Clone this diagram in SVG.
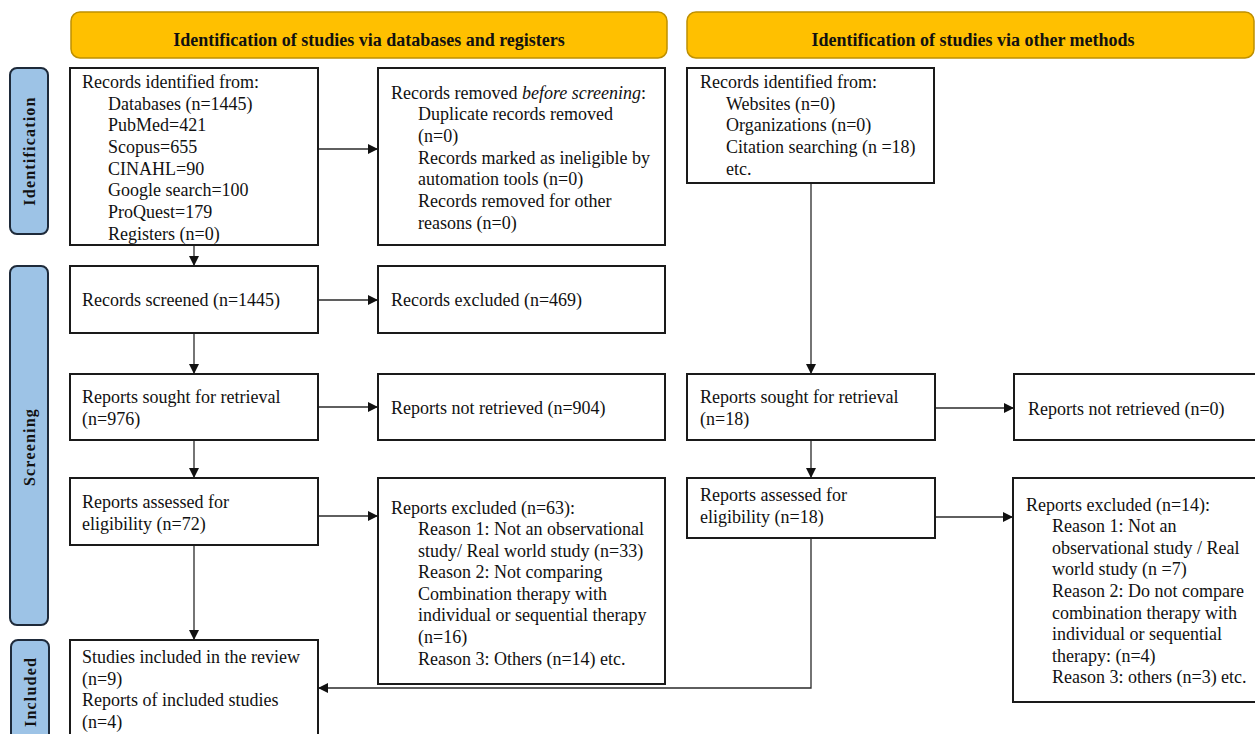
<svg xmlns="http://www.w3.org/2000/svg" width="1255" height="734" viewBox="0 0 1255 734">
<style>
.bg{fill:#ffffff}
.hdr{fill:#FFC000;stroke:#BF9000;stroke-width:1.5}
.side{fill:#9DC3E6;stroke:#1e2a3a;stroke-width:2}
.box{fill:#ffffff;stroke:#1a1a1a;stroke-width:2}
.t{font-family:"Liberation Serif","DejaVu Serif",serif;font-size:18px;fill:#111}
.ht{font-family:"Liberation Serif","DejaVu Serif",serif;font-size:18px;font-weight:bold;fill:#111;text-anchor:middle}
.st{font-family:"Liberation Serif","DejaVu Serif",serif;font-size:16px;font-weight:bold;fill:#111;text-anchor:middle;letter-spacing:1.2px}
.c{fill:none;stroke:#2a2a2a;stroke-width:1.3}
</style>
<defs>
<marker id="ah" viewBox="0 0 10 10" refX="10" refY="5" markerWidth="10" markerHeight="10" markerUnits="userSpaceOnUse" orient="auto">
<path d="M0,0 L10,5 L0,10 z" fill="#111"/>
</marker>
</defs>
<rect class="bg" x="0" y="0" width="1255" height="734"/>

<g id="header-db"><rect class="hdr" x="71" y="12" width="596" height="46" rx="9"/><text class="ht" x="369" y="46">Identification  of studies via databases and registers</text></g>
<g id="header-other"><rect class="hdr" x="687" y="12" width="567" height="46" rx="9"/><text class="ht" x="973" y="46">Identification  of studies via other methods</text></g>

<g id="side-identification"><rect class="side" x="10" y="68" width="38" height="166" rx="7"/><text class="st" transform="translate(35,151) rotate(-90)">Identification</text></g>
<g id="side-screening"><rect class="side" x="10" y="266" width="38" height="359" rx="7"/><text class="st" transform="translate(35,447) rotate(-90)">Screening</text></g>
<g id="side-included"><rect class="side" x="11" y="640" width="38" height="110" rx="7"/><text class="st" transform="translate(36,692) rotate(-90)">Included</text></g>

<g id="connectors">
<line class="c" x1="318" y1="149" x2="378" y2="149" marker-end="url(#ah)"/>
<line class="c" x1="194" y1="245" x2="194" y2="266" marker-end="url(#ah)"/>
<line class="c" x1="318" y1="300" x2="378" y2="300" marker-end="url(#ah)"/>
<line class="c" x1="194" y1="333" x2="194" y2="374" marker-end="url(#ah)"/>
<line class="c" x1="318" y1="407" x2="378" y2="407" marker-end="url(#ah)"/>
<line class="c" x1="194" y1="440" x2="194" y2="478" marker-end="url(#ah)"/>
<line class="c" x1="318" y1="516" x2="378" y2="516" marker-end="url(#ah)"/>
<line class="c" x1="194" y1="545" x2="194" y2="640" marker-end="url(#ah)"/>
<line class="c" x1="811" y1="183" x2="811" y2="374" marker-end="url(#ah)"/>
<line class="c" x1="935" y1="408" x2="1014" y2="408" marker-end="url(#ah)"/>
<line class="c" x1="811" y1="440" x2="811" y2="478" marker-end="url(#ah)"/>
<line class="c" x1="935" y1="517" x2="1013" y2="517" marker-end="url(#ah)"/>
<polyline class="c" points="811,538 811,688 318,688" marker-end="url(#ah)"/>
</g>

<g id="records-identified">
<rect class="box" x="70" y="68" width="248" height="177"/>
<text class="t" x="82" y="88">Records identified from:</text>
<text class="t" x="108" y="110">Databases (n=1445)</text>
<text class="t" x="108" y="131">PubMed=421</text>
<text class="t" x="108" y="153">Scopus=655</text>
<text class="t" x="108" y="175">CINAHL=90</text>
<text class="t" x="108" y="196">Google search=100</text>
<text class="t" x="108" y="218">ProQuest=179</text>
<text class="t" x="108" y="240">Registers (n=0)</text>
</g>

<g id="records-removed">
<rect class="box" x="378" y="68" width="287" height="177"/>
<text class="t" x="391" y="99">Records removed <tspan font-style="italic">before screening</tspan>:</text>
<text class="t" x="418" y="120">Duplicate records removed</text>
<text class="t" x="418" y="142">(n=0)</text>
<text class="t" x="418" y="164">Records marked as ineligible by</text>
<text class="t" x="418" y="185">automation tools (n=0)</text>
<text class="t" x="418" y="207">Records removed for other</text>
<text class="t" x="418" y="229">reasons (n=0)</text>
</g>

<g id="records-identified-other">
<rect class="box" x="687" y="68" width="247" height="115"/>
<text class="t" x="700" y="88">Records identified from:</text>
<text class="t" x="726" y="110">Websites (n=0)</text>
<text class="t" x="726" y="131">Organizations (n=0)</text>
<text class="t" x="726" y="153">Citation searching  (n =18)</text>
<text class="t" x="726" y="175">etc.</text>
</g>

<g id="records-screened">
<rect class="box" x="70" y="266" width="248" height="67"/>
<text class="t" x="82" y="306">Records screened (n=1445)</text>
</g>
<g id="records-excluded">
<rect class="box" x="378" y="266" width="287" height="67"/>
<text class="t" x="391" y="306">Records excluded (n=469)</text>
</g>

<g id="reports-sought">
<rect class="box" x="70" y="374" width="248" height="66"/>
<text class="t" x="82" y="403">Reports sought for retrieval</text>
<text class="t" x="82" y="425">(n=976)</text>
</g>
<g id="reports-not-retrieved">
<rect class="box" x="378" y="374" width="287" height="66"/>
<text class="t" x="391" y="414">Reports not retrieved (n=904)</text>
</g>

<g id="reports-assessed">
<rect class="box" x="70" y="478" width="248" height="67"/>
<text class="t" x="82" y="508">Reports assessed  for</text>
<text class="t" x="82" y="530">eligibility (n=72)</text>
</g>
<g id="reports-excluded">
<rect class="box" x="378" y="478" width="287" height="206"/>
<text class="t" x="391" y="514">Reports excluded (n=63):</text>
<text class="t" x="418" y="535">Reason 1: Not an observational</text>
<text class="t" x="418" y="557">study/ Real world study (n=33)</text>
<text class="t" x="418" y="578">Reason 2: Not comparing</text>
<text class="t" x="418" y="600">Combination therapy  with</text>
<text class="t" x="418" y="621">individual or sequential therapy</text>
<text class="t" x="418" y="643">(n=16)</text>
<text class="t" x="418" y="665">Reason 3: Others (n=14) etc.</text>
</g>

<g id="studies-included">
<rect class="box" x="70" y="640" width="248" height="110"/>
<text class="t" x="82" y="663">Studies included in the review</text>
<text class="t" x="82" y="685">(n=9)</text>
<text class="t" x="82" y="706">Reports of included studies</text>
<text class="t" x="82" y="728">(n=4)</text>
</g>

<g id="reports-sought-other">
<rect class="box" x="687" y="374" width="248" height="66"/>
<text class="t" x="700" y="403">Reports sought for retrieval</text>
<text class="t" x="700" y="425">(n=18)</text>
</g>
<g id="reports-not-retrieved-other">
<rect class="box" x="1014" y="374" width="250" height="66"/>
<text class="t" x="1028" y="415">Reports not retrieved (n=0)</text>
</g>

<g id="reports-assessed-other">
<rect class="box" x="687" y="478" width="248" height="60"/>
<text class="t" x="700" y="501">Reports assessed  for</text>
<text class="t" x="700" y="523">eligibility (n=18)</text>
</g>
<g id="reports-excluded-other">
<rect class="box" x="1013" y="478" width="250" height="224"/>
<text class="t" x="1026" y="511">Reports excluded (n=14):</text>
<text class="t" x="1052" y="532">Reason 1: Not an</text>
<text class="t" x="1052" y="554">observational study / Real</text>
<text class="t" x="1052" y="575">world study (n =7)</text>
<text class="t" x="1052" y="597">Reason 2: Do not compare</text>
<text class="t" x="1052" y="619">combination therapy  with</text>
<text class="t" x="1052" y="640">individual or sequential</text>
<text class="t" x="1052" y="662">therapy:  (n=4)</text>
<text class="t" x="1052" y="683">Reason 3: others (n=3) etc.</text>
</g>
</svg>
